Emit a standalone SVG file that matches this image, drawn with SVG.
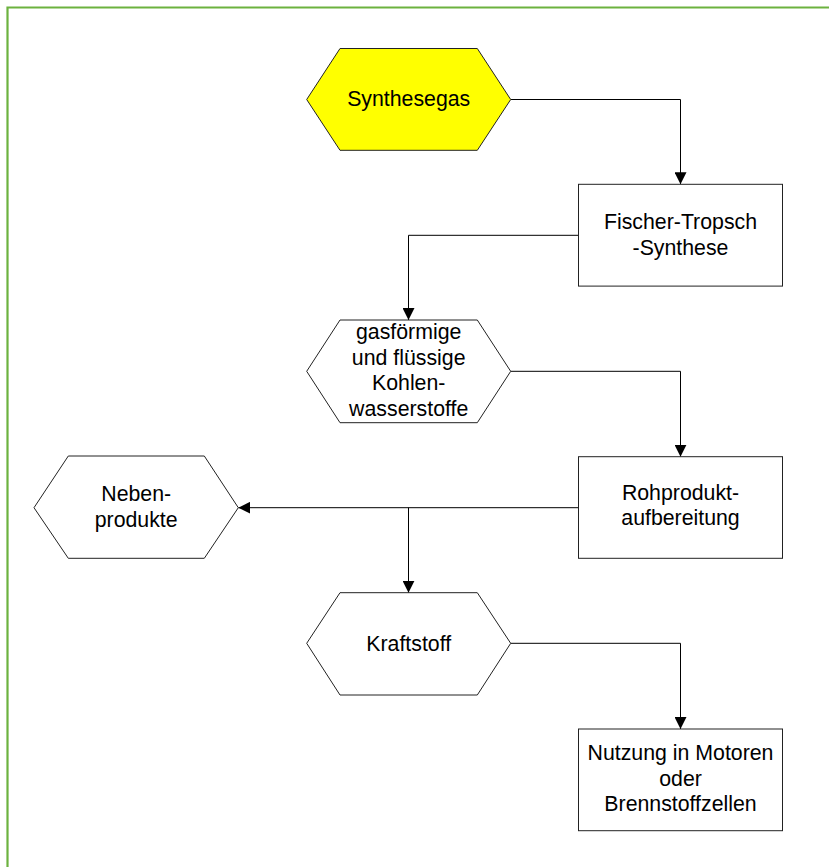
<svg xmlns="http://www.w3.org/2000/svg" width="829" height="867" viewBox="0 0 829 867">
  <defs>
    <marker id="arrow" markerUnits="userSpaceOnUse" markerWidth="12" markerHeight="12" refX="12" refY="6" orient="auto">
      <path d="M0,0 L12,6 L0,12 z" fill="#000"/>
    </marker>
    <style>
      .frame { fill: none; stroke: #6cb23f; stroke-width: 2.2; }
      .shape { fill: #fff; stroke: #222; stroke-width: 1; }
      .hex-yellow { fill: #ffff00; }
      .edge { fill: none; stroke: #000; stroke-width: 1; marker-end: url(#arrow); }
      .line { fill: none; stroke: #000; stroke-width: 1; }
      text { font-family: "Liberation Sans", Arial, sans-serif; font-size: 21.3px; fill: #000; text-anchor: middle; }
    </style>
  </defs>
  <rect width="829" height="867" fill="#fff"/>
  <path class="frame" d="M7.5,867 V7.5 H829"/>

  <g id="connectors">
    <path class="edge" d="M510.7,99.5 H680.5 V184.3"/>
    <path class="edge" d="M578.5,235.3 H408.5 V320"/>
    <path class="edge" d="M510.7,371.3 H680.5 V456.7"/>
    <path class="edge" d="M578.5,507.7 H238.3"/>
    <path class="edge" d="M408.5,507.7 V592.7"/>
    <path class="edge" d="M510.7,643.3 H680.5 V729"/>
  </g>

  <g id="synthesegas">
    <polygon class="shape hex-yellow" points="306.7,99.5 340,48.5 477.3,48.5 510.7,99.5 477.3,150.3 340,150.3"/>
    <text x="408.7" y="106">Synthesegas</text>
  </g>

  <g id="fischer-tropsch">
    <rect class="shape" x="578.5" y="184.3" width="204" height="101.8"/>
    <text x="680.5" y="229">Fischer-Tropsch</text>
    <text x="680.5" y="254.5">-Synthese</text>
  </g>

  <g id="kohlenwasserstoffe">
    <polygon class="shape" points="306.7,371.3 340,320 477.3,320 510.7,371.3 477.3,422.7 340,422.7"/>
    <text x="408.7" y="339">gasförmige</text>
    <text x="408.7" y="364.5">und flüssige</text>
    <text x="408.7" y="390">Kohlen-</text>
    <text x="408.7" y="415.6">wasserstoffe</text>
  </g>

  <g id="rohproduktaufbereitung">
    <rect class="shape" x="578.5" y="456.7" width="204" height="101.6"/>
    <text x="680.5" y="499.5">Rohprodukt-</text>
    <text x="680.5" y="525">aufbereitung</text>
  </g>

  <g id="nebenprodukte">
    <polygon class="shape" points="34,507.7 68.3,456 204.3,456 238.3,507.7 204.3,558.3 68.3,558.3"/>
    <text x="136.2" y="501">Neben-</text>
    <text x="136.2" y="526.6">produkte</text>
  </g>

  <g id="kraftstoff">
    <polygon class="shape" points="306.7,643.3 340,592.7 477.3,592.7 510.7,643.3 477.3,695 340,695"/>
    <text x="408.7" y="650.5">Kraftstoff</text>
  </g>

  <g id="nutzung">
    <rect class="shape" x="578.5" y="729" width="204" height="101.7"/>
    <text x="680.5" y="760.3">Nutzung in Motoren</text>
    <text x="680.5" y="785.8">oder</text>
    <text x="680.5" y="811.4">Brennstoffzellen</text>
  </g>
</svg>
